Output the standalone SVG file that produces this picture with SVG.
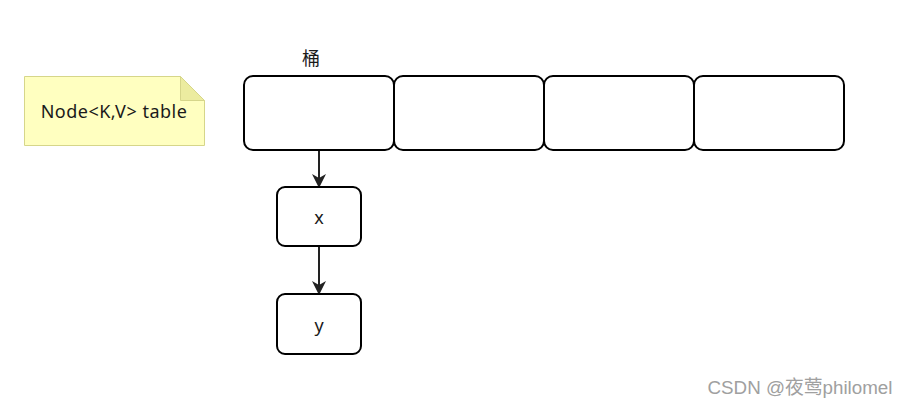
<svg xmlns="http://www.w3.org/2000/svg" width="909" height="408" viewBox="0 0 909 408">
<defs>
<style>
.box{fill:#fff;stroke:#000;stroke-width:2}
.t{font-family:"Noto Sans","Noto Sans CJK SC",sans-serif;font-size:18px;fill:#1a1a1a;text-anchor:middle;dominant-baseline:central}
.edge{stroke:#222;stroke-width:2;fill:none}
</style>
<marker id="arr" viewBox="0 0 12 14" refX="12" refY="7" markerWidth="12" markerHeight="14" markerUnits="userSpaceOnUse" orient="auto">
<path d="M0,0 L14,7 L0,14 L4,7 Z" fill="#222"/>
</marker>
</defs>
<rect width="909" height="408" fill="#fff"/>
<g id="note">
<path d="M24.5,76.5 H180.5 L204.5,100.5 V145.5 H24.5 Z" fill="#ffffc0" stroke="#d6d68a" stroke-width="1"/>
<path d="M180.5,76.5 V100.5 H204.5 Z" fill="#ececa0" stroke="#d6d68a" stroke-width="1"/>
<text class="t" x="114" y="111" letter-spacing="0.5">Node&lt;K,V&gt; table</text>
</g>
<g id="label-bucket"><text class="t" x="311" y="58">桶</text></g>
<g id="bucket1"><rect class="box" x="244" y="76" width="150" height="74" rx="9"/></g>
<g id="bucket2"><rect class="box" x="394" y="76" width="150" height="74" rx="9"/></g>
<g id="bucket3"><rect class="box" x="544" y="76" width="150" height="74" rx="9"/></g>
<g id="bucket4"><rect class="box" x="694" y="76" width="150" height="74" rx="9"/></g>
<g id="nodeX"><rect class="box" x="277" y="187" width="84" height="59" rx="8"/><text class="t" x="319" y="217">x</text></g>
<g id="nodeY"><rect class="box" x="277" y="294" width="84" height="60" rx="8"/><text class="t" x="319" y="325">y</text></g>
<g id="connectors">
<path class="edge" d="M319,151 V186" marker-end="url(#arr)"/>
<path class="edge" d="M319,247 V293" marker-end="url(#arr)"/>
</g>
<text x="800" y="387" font-family="Liberation Sans,Noto Sans CJK SC,sans-serif" font-size="18.8" fill="#a0a0a0" text-anchor="middle" dominant-baseline="central">CSDN @夜莺philomel</text>
</svg>
